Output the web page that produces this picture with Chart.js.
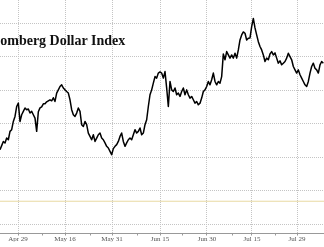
<!DOCTYPE html>
<html>
<head>
<meta charset="utf-8">
<script src="https://cdn.jsdelivr.net/npm/chart.js@4.4.1/dist/chart.umd.min.js"></script>
<style>
  html, body { margin: 0; padding: 0; background: #fff; }
  #wrap { position: relative; width: 324px; height: 247px; overflow: hidden; }
  #title {
    position: absolute; left: -20px; top: 34px;
    font: bold 14px/14px "Liberation Serif", "DejaVu Serif", serif;
    color: #111; white-space: nowrap;
  }
</style>
</head>
<body>
<div id="wrap">
  <canvas id="chart" width="324" height="247"></canvas>
  <div id="title">Bloomberg Dollar Index</div>
</div>
<script>
// Bloomberg Dollar Index, intraday samples evenly spaced in time (x = sample number)
const indexValues = [
  1224.6, 1227.0, 1229.5, 1228.6, 1231.5, 1230.5, 1235.5, 1236.5, 1241.4, 1244.4,
  1250.3, 1252.3, 1241.4, 1245.4, 1247.4, 1249.4, 1248.4, 1248.8, 1246.4, 1247.4,
  1245.4, 1243.4, 1235.5, 1247.2, 1249.5, 1250.1, 1251.9, 1251.9, 1253.1, 1253.7,
  1254.3, 1253.7, 1255.5, 1253.3, 1258.3, 1260.2, 1262.2, 1263.2, 1261.3, 1260.2,
  1259.2, 1258.3, 1254.3, 1248.4, 1245.4, 1244.4, 1246.4, 1249.4, 1247.4, 1239.5,
  1238.4, 1241.4, 1239.5, 1234.5, 1232.5, 1230.5, 1233.5, 1229.5, 1231.5, 1233.5,
  1234.5, 1231.5, 1230.5, 1228.6, 1226.6, 1225.6, 1223.6, 1221.6, 1225.2, 1226.6,
  1227.6, 1229.5, 1232.5, 1234.5, 1229.5, 1226.6, 1228.6, 1230.5, 1231.5, 1230.5,
  1233.5, 1236.5, 1234.5, 1235.5, 1237.5, 1233.5, 1234.5, 1239.5, 1242.4, 1250.3,
  1257.3, 1260.2, 1264.2, 1268.1, 1267.2, 1270.2, 1270.9, 1270.2, 1267.2, 1271.1,
  1261.3, 1250.3, 1265.2, 1260.2, 1259.2, 1261.3, 1257.3, 1258.3, 1256.3, 1259.2,
  1261.3, 1257.3, 1260.2, 1257.3, 1255.3, 1256.3, 1254.3, 1252.3, 1253.3, 1251.3,
  1252.3, 1255.3, 1259.2, 1260.2, 1262.2, 1265.2, 1263.2, 1266.2, 1270.2, 1265.2,
  1263.2, 1265.2, 1264.2, 1268.1, 1281.6, 1278.1, 1283.0, 1281.0, 1279.1, 1281.0,
  1279.1, 1282.0, 1279.1, 1284.0, 1289.9, 1292.9, 1294.7, 1293.9, 1289.9, 1291.0,
  1291.1, 1297.8, 1302.7, 1297.1, 1292.9, 1288.9, 1286.0, 1284.0, 1281.0, 1277.1,
  1279.1, 1278.1, 1281.6, 1283.0, 1281.0, 1282.2, 1279.1, 1276.1, 1277.5, 1275.1,
  1276.1, 1277.1, 1279.1, 1282.0, 1280.0, 1278.1, 1274.1, 1272.1, 1270.2, 1272.1,
  1269.2, 1267.2, 1265.2, 1263.2, 1262.2, 1265.2, 1270.2, 1274.1, 1276.1, 1273.1,
  1272.1, 1270.2, 1275.1, 1277.1, 1276.1
];

// flat yellow reference line near the bottom
const refLevel = 1193.9;

// date labels and where they fall (in sample numbers)
const dateLabels = ["Apr 29", "May 16", "May 31", "Jun 15", "Jun 30", "Jul 15", "Jul 29"];
const datePos    = [10.8, 39, 67.2, 96, 124.2, 151.2, 178.2];
const minorPos   = [25.2, 54, 82.8, 109.2, 139.2, 165];
const yearLabel  = "2022";
const yearPos    = 82.8;

// horizontal grid levels (axis labels are cropped off on the right)
const yGridValues = [1180, 1200, 1220, 1240, 1260, 1280, 1300];

const X_MIN = 0, X_MAX = 194.4;
const Y_MIN = 1174.7, Y_MAX = 1313.7;

const GRID = "#c4c4c4";
const TICK_FONT = { family: "'Liberation Serif', 'DejaVu Serif', serif", size: 7, lineHeight: 1 };

const lineData = indexValues.map((v, i) => ({ x: i, y: v }));
const refData = [{ x: X_MIN, y: refLevel }, { x: X_MAX, y: refLevel }];

new Chart(document.getElementById("chart"), {
  type: "line",
  data: {
    datasets: [
      {
        data: refData,
        borderColor: "#e8d9a2",
        borderWidth: 1,
        pointRadius: 0
      },
      {
        data: lineData,
        borderColor: "#000",
        borderWidth: 1.5,
        pointRadius: 0,
        tension: 0,
        borderJoinStyle: "round"
      }
    ]
  },
  options: {
    responsive: false,
    animation: false,
    devicePixelRatio: 1,
    layout: { padding: 0 },
    plugins: {
      legend: { display: false },
      tooltip: { enabled: false }
    },
    scales: {
      x: {
        type: "linear",
        position: "bottom",
        weight: 0,
        min: X_MIN,
        max: X_MAX,
        afterBuildTicks: scale => {
          const major = datePos.map((v, i) => ({ value: v, text: dateLabels[i] }));
          const minor = minorPos.map(v => ({ value: v, minor: true, text: "" }));
          scale.ticks = major.concat(minor).sort((a, b) => a.value - b.value);
        },
        afterFit: scale => { scale.height = 8; },
        grid: {
          color: ctx => (ctx.tick && ctx.tick.minor) ? "rgba(0,0,0,0)" : GRID,
          tickColor: "#999",
          tickLength: 2,
          tickBorderDash: [],
          lineWidth: 1
        },
        border: { display: true, color: "#999", width: 1, dash: [1, 1] },
        ticks: {
          autoSkip: false,
          maxRotation: 0,
          padding: 0,
          color: "#555",
          font: TICK_FONT,
          callback: (value, index, ticks) => ticks[index].text
        }
      },
      x2: {
        type: "linear",
        position: "bottom",
        weight: 1,
        min: X_MIN,
        max: X_MAX,
        afterBuildTicks: scale => { scale.ticks = [{ value: yearPos }]; },
        afterFit: scale => { scale.height = 5.5; },
        grid: { display: false },
        border: { display: false },
        ticks: {
          autoSkip: false,
          maxRotation: 0,
          padding: 0,
          color: "#555",
          font: TICK_FONT,
          callback: () => yearLabel
        }
      },
      y: {
        position: "right",
        min: Y_MIN,
        max: Y_MAX,
        afterBuildTicks: scale => {
          scale.ticks = yGridValues.map(v => ({ value: v }));
        },
        afterFit: scale => { scale.width = 0; },
        grid: { color: GRID, drawTicks: false, lineWidth: 1 },
        border: { display: false, dash: [1, 1] },
        ticks: { display: false }
      }
    }
  }
});
</script>
</body>
</html>
